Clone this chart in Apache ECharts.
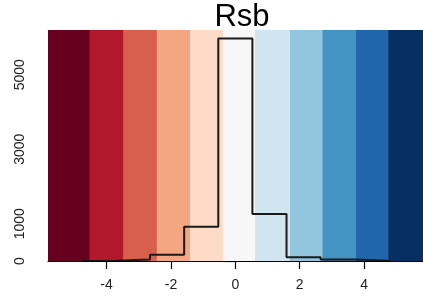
<!DOCTYPE html>
<html>
<head>
<meta charset="utf-8">
<script src="https://cdn.jsdelivr.net/npm/echarts@6/dist/echarts.min.js"></script>
<style>
  html, body { margin: 0; padding: 0; background: #fff; }
  #chart { width: 423px; height: 297px; }
</style>
</head>
<body>
<div id="chart"></div>
<script>
// fondo de colores (RdBu) y bordes de cada franja
const band_edges = [-5.82, -4.53, -3.48, -2.44, -1.41, -0.39, 0.61, 1.70, 2.71, 3.75, 4.75, 5.83];
const band_colors = ['#67001F', '#B2182B', '#D6604D', '#F4A582', '#FDDBC7', '#F7F7F7',
                     '#D1E5F0', '#92C5DE', '#4393C3', '#2166AC', '#053061'];

// histograma: bordes de los bins y conteos
const bin_edges = [-4.77, -3.71, -2.65, -1.59, -0.53, 0.53, 1.59, 2.65, 3.71, 4.77];
const bin_counts = [5, 40, 170, 920, 5970, 1260, 100, 40, 10];

const x_ticks = [-4, -2, 0, 2, 4];
const y_ticks = [0, 1000, 2000, 3000, 4000, 5000, 6000];
const y_labels = [0, 1000, 3000, 5000];

const y_max = 6200;

let chart = echarts.init(document.getElementById('chart'), null, { renderer: 'canvas' });

let bandas = band_colors.map((c, i) => [band_edges[i], band_edges[i + 1], i]);

//contorno escalonado del histograma (sube desde 0 y baja a 0 al final)
let escalon = [[bin_edges[0], 0]];
bin_counts.forEach((v, i) => escalon.push([bin_edges[i], v]));
escalon.push([bin_edges[bin_edges.length - 1], bin_counts[bin_counts.length - 1]]);
escalon.push([bin_edges[bin_edges.length - 1], 0]);

let option = {
    animation: false,
    graphic: [{
        type: 'text',
        x: 242,
        y: 17,
        style: {
            text: 'Rsb',
            fontSize: 31,
            fontFamily: 'Liberation Sans',
            fill: '#000',
            align: 'center',
            verticalAlign: 'middle'
        }
    }],
    grid: { left: 48, right: 0, top: 30, bottom: 36 },
    xAxis: {
        type: 'value',
        min: -5.82,
        max: 5.83,
        z: 10,
        axisLine: { show: true, onZero: false, lineStyle: { color: '#000', width: 1.2 } },
        axisTick: { show: true, length: 8, customValues: x_ticks, lineStyle: { color: '#000', width: 1.2 } },
        axisLabel: { customValues: x_ticks, fontSize: 14, color: '#222', margin: 17, fontFamily: 'Liberation Sans' },
        splitLine: { show: false }
    },
    yAxis: {
        type: 'value',
        min: 0,
        max: y_max,
        axisLine: { show: false },
        axisTick: { show: true, length: 10, customValues: y_ticks, lineStyle: { color: '#000', width: 1.2 } },
        axisLabel: {
            customValues: y_labels, rotate: 90, fontSize: 14, color: '#222', margin: 21,
            fontFamily: 'Liberation Sans',
            formatter: (v) => String(v)
        },
        splitLine: { show: false }
    },
    series: [
        {
            type: 'custom',
            clip: true,
            z: 1,
            data: bandas,
            renderItem: (params, api) => {
                let p0 = api.coord([api.value(0), y_max]);
                let p1 = api.coord([api.value(1), 0]);
                return {
                    type: 'rect',
                    shape: { x: p0[0], y: p0[1], width: p1[0] - p0[0] + 0.5, height: p1[1] - p0[1] },
                    style: { fill: band_colors[api.value(2)] }
                };
            }
        },
        {
            type: 'line',
            z: 3,
            step: 'end',
            data: escalon,
            symbol: 'none',
            silent: true,
            lineStyle: { color: '#1a1a1a', width: 2 }
        }
    ]
};

chart.setOption(option);
</script>
</body>
</html>
